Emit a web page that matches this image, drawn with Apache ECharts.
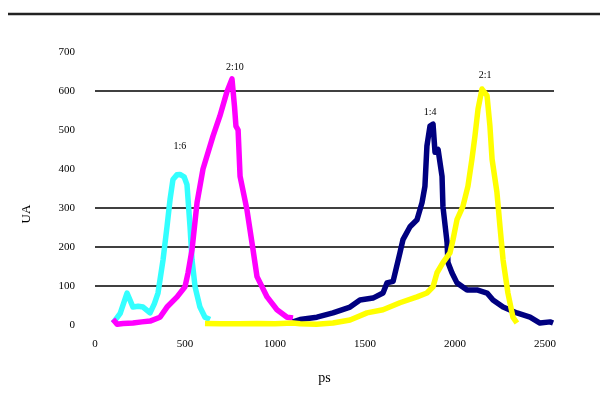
<!DOCTYPE html>
<html>
<head>
<meta charset="utf-8">
<script src="https://cdn.jsdelivr.net/npm/echarts@6/dist/echarts.min.js"></script>
<style>html,body{margin:0;padding:0;background:#fff;}#c{width:600px;height:401px;}</style>
</head>
<body>
<div id="c"></div>
<script>
var xTicks = [0, 500, 1000, 1500, 2000, 2500];
var yTicks = [0, 100, 200, 300, 400, 500, 600, 700];
var peakLabels = ['1:6', '2:10', '1:4', '2:1'];
var seriesNames = ['cyan', 'magenta', 'navy', 'yellow'];

var cyanData = [[100,5],[140,30],[178,82],[211,46],[240,48],[267,46],[306,31],[330,55],[350,82],[378,167],[400,252],[417,322],[433,373],[455,385],[472,386],[495,380],[511,360],[517,322],[528,252],[539,167],[556,98],[583,46],[611,20],[639,14]];
var magentaData = [[100,15],[123,2],[156,4],[211,5],[260,8],[306,10],[361,20],[400,46],[456,72],[500,98],[517,134],[539,193],[567,314],[600,400],[656,485],[694,536],[733,598],[761,631],[775,560],[783,510],[795,500],[806,381],[844,296],[878,193],[900,124],[956,72],[1011,39],[1067,20],[1100,18]];
var navyData = [[1100,8],[1139,14],[1233,20],[1322,31],[1417,46],[1472,64],[1544,69],[1600,82],[1622,108],[1656,112],[1694,185],[1711,219],[1750,252],[1789,270],[1817,314],[1833,356],[1844,459],[1861,510],[1878,515],[1889,443],[1906,450],[1928,381],[1933,304],[1956,211],[1961,160],[1983,134],[2011,108],[2067,90],[2122,90],[2178,82],[2211,64],[2267,46],[2344,31],[2417,20],[2472,5],[2528,8],[2545,5]];
var yellowData = [[611,4],[700,3],[800,3],[900,4],[1000,3],[1100,5],[1139,3],[1230,2],[1322,5],[1417,13],[1511,31],[1600,39],[1694,57],[1789,72],[1844,82],[1878,98],[1900,134],[1933,160],[1972,185],[1989,219],[2011,270],[2044,304],[2072,356],[2094,425],[2111,485],[2128,554],[2150,605],[2156,610],[2178,588],[2194,510],[2206,425],[2233,340],[2250,252],[2267,167],[2294,82],[2322,20],[2344,5]];

var allData = [cyanData, magentaData, navyData, yellowData];
var colors = ['#33FFFF', '#FF00FF', '#000080', '#FFFF00'];
var drawOrder = [1, 0, 3, 2];

function peakOf(d) {
  var best = d[0];
  d.forEach(function (p) { if (p[1] > best[1]) best = p; });
  return best;
}

var font = '"Liberation Serif", "DejaVu Serif", serif';
var labelOffsets = [[0, -28], [3, -12], [-3, -12], [2, -12]];

var series = drawOrder.map(function (i) {
  var pk = peakOf(allData[i]);
  return {
    name: seriesNames[i],
    type: 'line',
    data: allData[i],
    showSymbol: false,
    symbol: 'none',
    clip: false,
    z: 2 + i,
    lineStyle: { color: colors[i], width: 5.5, join: 'round' },
    itemStyle: { color: colors[i] },
    markPoint: {
      symbol: 'circle', symbolSize: 0,
      data: [{ coord: pk }],
      label: {
        show: true, formatter: peakLabels[i], color: '#000',
        fontFamily: font, fontSize: 10, offset: labelOffsets[i]
      }
    }
  };
});

var chart = echarts.init(document.getElementById('c'), null, { renderer: 'canvas' });
chart.setOption({
  backgroundColor: '#fff',
  animation: false,
  grid: { left: 95, right: 46, top: 52, bottom: 76 },
  xAxis: {
    type: 'value', min: 0, max: 2550, interval: 500,
    name: 'ps', nameLocation: 'middle', nameGap: 46,
    nameTextStyle: { fontFamily: font, fontSize: 14, color: '#000' },
    axisLine: { show: false }, axisTick: { show: false },
    splitLine: { show: false },
    axisLabel: { fontFamily: font, fontSize: 11, color: '#000', margin: 14,
      formatter: function (v) { return xTicks.indexOf(v) >= 0 ? String(v) : ''; } }
  },
  yAxis: {
    type: 'value', min: 0, max: 700, interval: 100,
    axisLine: { show: false }, axisTick: { show: false },
    axisLabel: { fontFamily: font, fontSize: 11, color: '#000', margin: 20,
      formatter: function (v) { return yTicks.indexOf(v) >= 0 ? String(v) : ''; } },
    splitLine: { show: true, lineStyle: { width: 1.5,
      color: ['rgba(0,0,0,0)', '#000', '#000', '#000', 'rgba(0,0,0,0)', 'rgba(0,0,0,0)', '#000', 'rgba(0,0,0,0)'] } }
  },
  graphic: [
    { type: 'line', shape: { x1: 8, y1: 14, x2: 600, y2: 14 }, style: { stroke: '#222', lineWidth: 2.5 } },
    { type: 'text', x: 27, y: 214, rotation: Math.PI / 2, style: { text: 'UA', font: '13px ' + font, fill: '#000', textAlign: 'center', textVerticalAlign: 'middle' } }
  ],
  series: series
});
</script>
</body>
</html>
